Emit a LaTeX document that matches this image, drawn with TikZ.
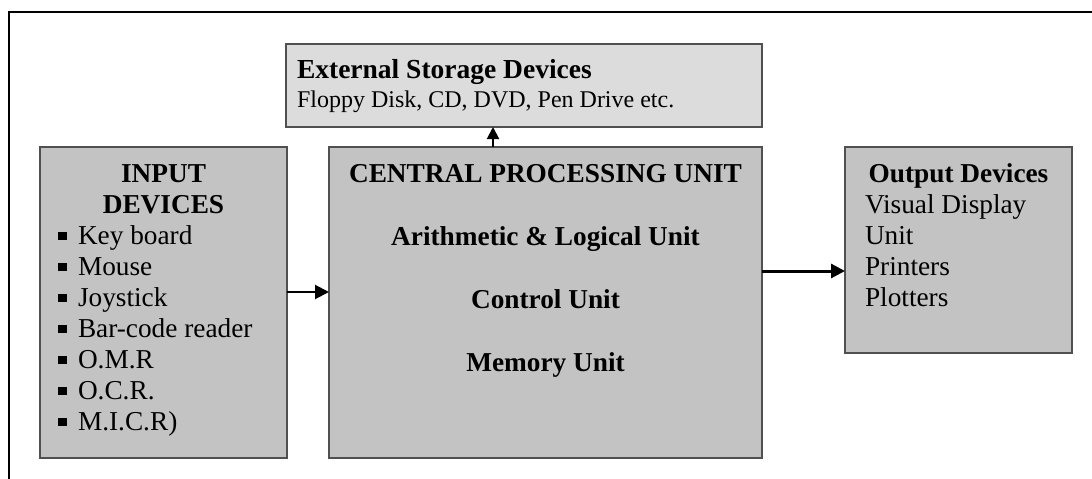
\documentclass[tikz,border=0pt]{standalone}
\usepackage{fontspec}
\setmainfont{Liberation Serif}
\usetikzlibrary{arrows.meta}
\definecolor{boxgray}{HTML}{C3C3C3}
\definecolor{lightgray2}{HTML}{DCDCDC}
\definecolor{edgegray}{HTML}{505050}
\tikzset{
  blk/.style={draw=edgegray, line width=1.5pt, fill=boxgray, inner sep=0pt, outer sep=0pt, anchor=north west},
  txt/.style={inner sep=0pt, outer sep=0pt, font=\fontsize{27.3}{31.4}\selectfont},
  btxt/.style={inner sep=0pt, outer sep=0pt, font=\fontsize{27.3}{31.4}\selectfont\bfseries},
  arr/.style={line width=2pt, -{Triangle[length=14pt,width=14pt]}},
}
\newcommand{\bul}{\rule[4pt]{8.5pt}{8.5pt}}
\begin{document}
\begin{tikzpicture}[x=1pt,y=-1pt]
\useasboundingbox (0,0) rectangle (1092,479);
\fill[white] (0,0) rectangle (1092,479);
\draw[line width=2pt] (9,479) -- (9,12) -- (1092,12);

% boxes
\node[blk, fill=lightgray2, minimum width=476pt, minimum height=83pt] (store) at (286,44) {};
\node[blk, minimum width=247pt, minimum height=311pt] (in) at (40,147) {};
\node[blk, minimum width=433pt, minimum height=311pt] (cpu) at (329,147) {};
\node[blk, minimum width=227pt, minimum height=206pt] (out) at (845,147) {};

% storage texts
\node[btxt, anchor=base west, font=\fontsize{27.5}{31}\selectfont\bfseries] (st1) at (297,78) {External Storage Devices};
\node[txt, anchor=base west, font=\fontsize{24}{29}\selectfont] (st2) at (297,107) {Floppy Disk, CD, DVD, Pen Drive etc.};

% input texts
\node[btxt, anchor=base] (in1) at (163.5,182) {INPUT};
\node[btxt, anchor=base] (in2) at (163.5,213) {DEVICES};
\foreach \t [count=\i from 0] in {Key board, Mouse, Joystick, Bar-code reader, O.M.R, O.C.R., M.I.C.R)}{
  \node[txt, anchor=base west] (b\i) at (58,{244+31*\i}) {\bul};
  \node[txt, anchor=base west] (it\i) at (78,{244+31*\i}) {\t};
}

% cpu texts
\node[btxt, anchor=base] (c1) at (545.5,182) {CENTRAL PROCESSING UNIT};
\node[btxt, anchor=base] (c2) at (545.5,245) {Arithmetic \& Logical Unit};
\node[btxt, anchor=base] (c3) at (545.5,308) {Control Unit};
\node[btxt, anchor=base] (c4) at (545.5,371) {Memory Unit};

% output texts
\node[btxt, anchor=base] (o0) at (958.5,182) {Output Devices};
\foreach \t [count=\i from 1] in {Visual Display, Unit, Printers, Plotters}{
  \node[txt, anchor=base west] (o\i) at (865,{182+31*\i}) {\t};
}

% connectors
\coordinate (ya) at (0,292);
\coordinate (yb) at (0,271);
\coordinate (xc) at (493,0);
\draw[arr] (in.east |- ya) -- (cpu.west |- ya);
\draw[arr, line width=3pt] (cpu.east |- yb) -- (out.west |- yb);
\draw[arr, -{Triangle[length=12pt,width=12pt]}] (cpu.north -| xc) -- (store.south -| xc);
\end{tikzpicture}
\end{document}
